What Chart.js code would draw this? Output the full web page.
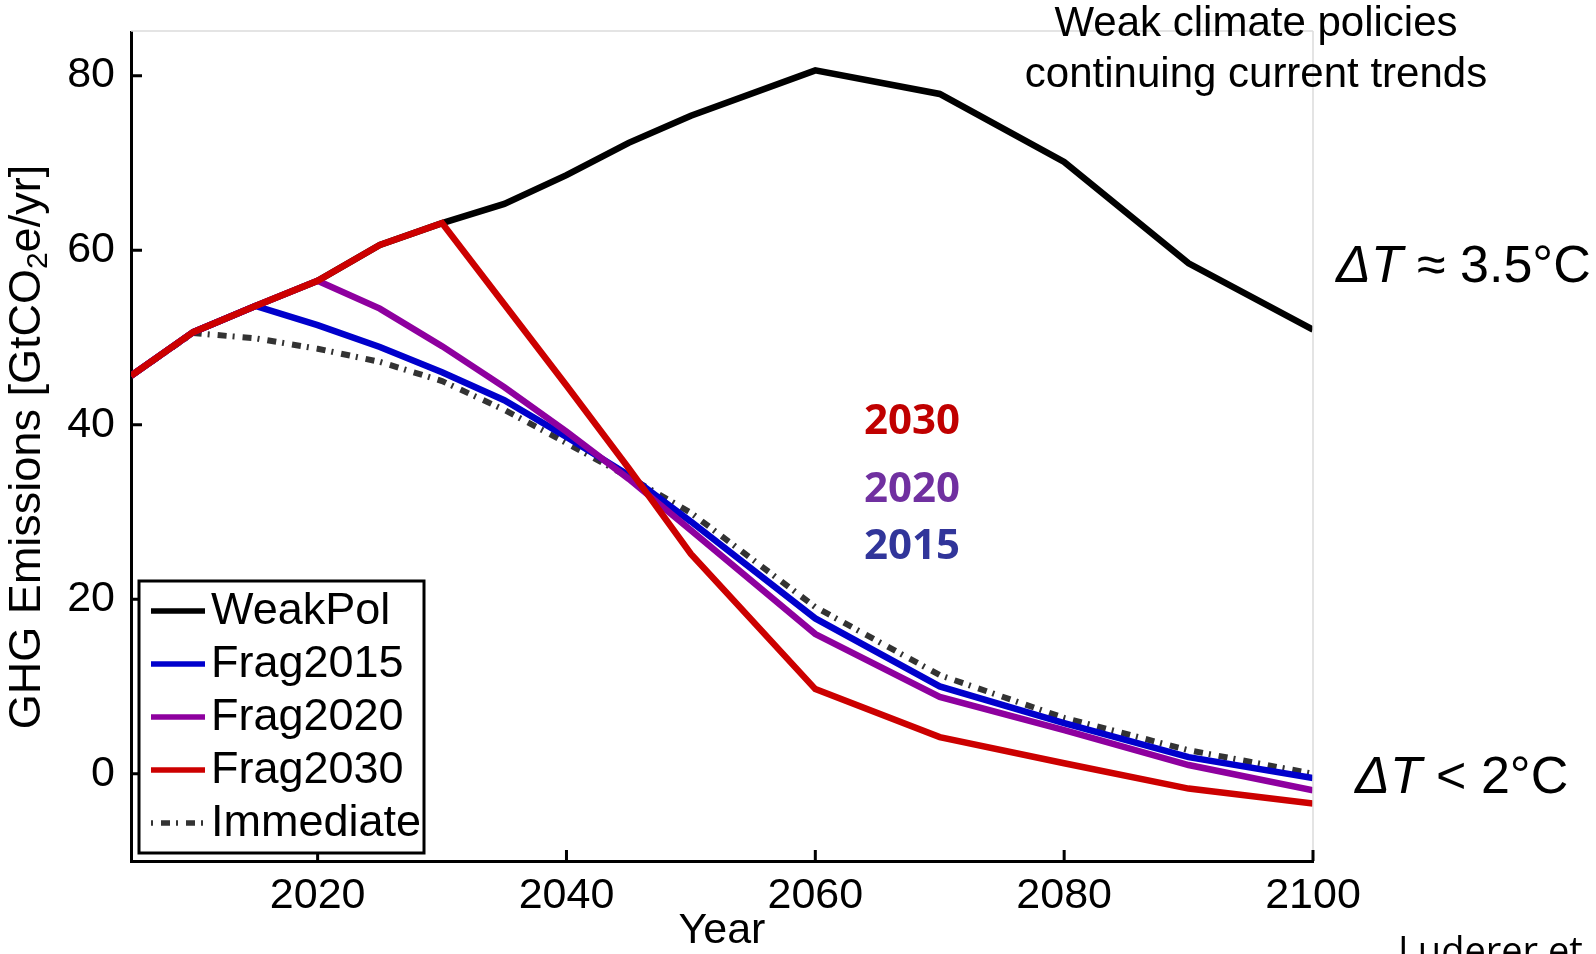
<!DOCTYPE html>
<html>
<head>
<meta charset="utf-8">
<script src="https://cdn.jsdelivr.net/npm/chart.js@4.4.1/dist/chart.umd.min.js"></script>
<style>
  html, body { margin: 0; padding: 0; background: #fff; }
  #wrap { width: 1596px; height: 954px; }
</style>
</head>
<body>
<div id="wrap"><canvas id="ghgChart" width="1596" height="954"></canvas></div>
<script>
/* GHG emission pathways — WeakPol vs fragmented action vs immediate */

// model years (5-yr steps until 2050, 10-yr after)
const years = [2005, 2010, 2015, 2020, 2025, 2030, 2035, 2040, 2045, 2050, 2060, 2070, 2080, 2090, 2100];

// GtCO2e/yr
const weakPol   = [45.6, 50.6, 53.6, 56.5, 60.6, 63.1, 65.3, 68.6, 72.3, 75.4, 80.6, 77.9, 70.1, 58.5, 50.9];
const frag2015  = [45.6, 50.6, 53.6, 51.4, 48.9, 46.0, 42.8, 38.6, 34.2, 28.9, 17.8, 10.0, 5.8, 1.9, -0.5];
const frag2020  = [45.6, 50.6, 53.6, 56.5, 53.3, 49.0, 44.3, 39.2, 33.8, 27.9, 16.0, 8.8, 5.0, 1.0, -1.9];
const frag2030  = [45.6, 50.6, 53.6, 56.5, 60.6, 63.1, 53.8, 44.5, 35.0, 25.2, 9.7, 4.2, 1.2, -1.7, -3.4];
const immediate = [45.6, 50.5, 49.9, 48.7, 47.2, 45.0, 41.7, 37.9, 34.0, 29.9, 19.1, 11.3, 6.4, 2.7, 0.0];

const xTicks = [2020, 2040, 2060, 2080, 2100];
const yTicks = [0, 20, 40, 60, 80];

const FONT = '"Liberation Sans", Arial, sans-serif';
const IMM_DASH = [9, 6, 2, 8];

function pts(series) {
    return years.map((yr, i) => ({ x: yr, y: series[i] }));
}

function lineSet(label, series, color, order, dash) {
    return {
        label: label,
        data: pts(series),
        borderColor: color,
        backgroundColor: color,
        borderWidth: dash ? 6 : 6.5,
        borderDash: dash || [],
        pointRadius: 0,
        tension: 0,
        fill: false,
        order: order   // lower order = drawn on top
    };
}

// inward ticks + faint top/right box lines
const axisExtras = {
    id: 'axisExtras',
    afterDraw(chart) {
        const { ctx, chartArea: a, scales } = chart;
        ctx.save();
        ctx.strokeStyle = '#dcdcdc';
        ctx.lineWidth = 1.5;
        ctx.beginPath();
        ctx.moveTo(a.left, a.top - 1);
        ctx.lineTo(a.right, a.top - 1);
        ctx.moveTo(a.right, a.top - 1);
        ctx.lineTo(a.right, a.bottom);
        ctx.stroke();

        ctx.strokeStyle = '#000';
        ctx.lineWidth = 3;
        ctx.beginPath();
        yTicks.forEach(v => {
            const y = scales.y.getPixelForValue(v);
            ctx.moveTo(a.left, y);
            ctx.lineTo(a.left + 11, y);
        });
        xTicks.forEach(v => {
            const x = scales.x.getPixelForValue(v);
            ctx.moveTo(x, a.bottom);
            ctx.lineTo(x, a.bottom - 11);
        });
        ctx.stroke();
        ctx.restore();
    }
};

// y axis title with subscript 2
const yTitle = {
    id: 'yTitle',
    afterDraw(chart) {
        const ctx = chart.ctx;
        const a = chart.chartArea;
        const p1 = 'GHG Emissions [GtCO', sub = '2', p2 = 'e/yr]';
        ctx.save();
        ctx.translate(24, (a.top + a.bottom) / 2 + 0.5);
        ctx.rotate(-Math.PI / 2);
        ctx.fillStyle = '#000';
        ctx.textBaseline = 'alphabetic';
        ctx.textAlign = 'left';
        ctx.font = '45px ' + FONT;
        const w1 = ctx.measureText(p1).width;
        const w3 = ctx.measureText(p2).width;
        ctx.font = '30px ' + FONT;
        const w2 = ctx.measureText(sub).width;
        let x = -(w1 + w2 + w3) / 2;
        ctx.font = '45px ' + FONT;
        ctx.fillText(p1, x, 16);
        x += w1;
        ctx.font = '30px ' + FONT;
        ctx.fillText(sub, x, 23);
        x += w2;
        ctx.font = '45px ' + FONT;
        ctx.fillText(p2, x, 16);
        ctx.restore();
    }
};

// boxed legend in the lower left of the plot
const boxLegend = {
    id: 'boxLegend',
    afterDraw(chart) {
        const ctx = chart.ctx;
        const a = chart.chartArea;
        const left = a.left + 8, top = 581, w = 285, h = 272;
        ctx.save();
        ctx.fillStyle = '#fff';
        ctx.fillRect(left, top, w, h);
        ctx.strokeStyle = '#000';
        ctx.lineWidth = 3;
        ctx.strokeRect(left, top, w, h);

        ctx.font = '45px ' + FONT;
        ctx.textBaseline = 'middle';
        ctx.textAlign = 'left';
        chart.data.datasets.forEach((ds, i) => {
            const y = top + 30 + i * 53;
            ctx.strokeStyle = ds.borderColor;
            ctx.lineWidth = 5.5;
            ctx.setLineDash(ds.borderDash.length ? ds.borderDash : []);
            ctx.lineDashOffset = ds.borderDash.length ? 15 : 0;
            ctx.beginPath();
            ctx.moveTo(left + 12, y);
            ctx.lineTo(left + 66, y);
            ctx.stroke();
            ctx.setLineDash([]);
            ctx.fillStyle = '#000';
            ctx.fillText(ds.label, left + 72, y + 1);
        });
        ctx.restore();
    }
};

// annotations
const notes = {
    id: 'notes',
    afterDraw(chart) {
        const ctx = chart.ctx;
        ctx.save();
        ctx.fillStyle = '#000';
        ctx.textBaseline = 'alphabetic';

        ctx.textAlign = 'center';
        ctx.font = '42px ' + FONT;
        ctx.fillText('Weak climate policies', 1256, 36);
        ctx.fillText('continuing current trends', 1256, 87);

        ctx.textAlign = 'left';
        const dT = (x, y, rest) => {
            ctx.font = 'italic 52px ' + FONT;
            ctx.fillText('\u0394T', x, y);
            const w = ctx.measureText('\u0394T').width;
            ctx.font = '52px ' + FONT;
            ctx.fillText(rest, x + w, y);
        };
        dT(1336, 282, ' \u2248 3.5\u00b0C');
        dT(1355, 793, ' < 2\u00b0C');

        ctx.textAlign = 'center';
        ctx.font = 'bold 42px "Open Sans", "Noto Sans", sans-serif';
        ctx.fillStyle = '#c00000';
        ctx.fillText('2030', 912, 434);
        ctx.fillStyle = '#7030a0';
        ctx.fillText('2020', 912, 502);
        ctx.fillStyle = '#31359a';
        ctx.fillText('2015', 912, 559);

        ctx.textAlign = 'left';
        ctx.fillStyle = '#000';
        ctx.font = '38px "Open Sans", "Noto Sans", sans-serif';
        ctx.fillText('Luderer et al.', 1398, 964);
        ctx.restore();
    }
};

const ctx = document.getElementById('ghgChart').getContext('2d');
new Chart(ctx, {
    type: 'line',
    data: {
        datasets: [
            lineSet('WeakPol',   weakPol,   '#000000', 3),
            lineSet('Frag2015',  frag2015,  '#0000cc', 2),
            lineSet('Frag2020',  frag2020,  '#8e009f', 1),
            lineSet('Frag2030',  frag2030,  '#cc0000', 0),
            lineSet('Immediate', immediate, '#333333', 4, IMM_DASH)
        ]
    },
    options: {
        responsive: false,
        animation: false,
        devicePixelRatio: 1,
        layout: { padding: { left: 0, right: 283, top: 32, bottom: 0 } },
        plugins: {
            legend: { display: false },
            tooltip: { enabled: false }
        },
        scales: {
            x: {
                type: 'linear',
                min: 2005,
                max: 2100,
                afterBuildTicks: s => { s.ticks = xTicks.map(v => ({ value: v })); },
                afterFit: s => { s.height = 93; s.paddingLeft = 0; s.paddingRight = 0; },
                ticks: {
                    color: '#000',
                    font: { family: FONT, size: 43 },
                    padding: 9,
                    maxRotation: 0,
                    autoSkip: false,
                    callback: v => String(v)
                },
                grid: { drawOnChartArea: false, drawTicks: false },
                border: { display: true, color: '#000', width: 3 },
                title: { display: true, text: 'Year', color: '#000', font: { family: FONT, size: 43, lineHeight: 1 }, padding: { top: 0, bottom: 1 } }
            },
            y: {
                min: -10,
                max: 85,
                afterBuildTicks: s => { s.ticks = yTicks.map(v => ({ value: v })); },
                afterFit: s => { s.width = 131; s.paddingTop = 0; s.paddingBottom = 0; },
                ticks: { color: '#000', font: { family: FONT, size: 43 }, padding: 16 },
                grid: { drawOnChartArea: false, drawTicks: false },
                border: { display: true, color: '#000', width: 3 }
            }
        }
    },
    plugins: [axisExtras, yTitle, boxLegend, notes]
});
</script>
</body>
</html>
